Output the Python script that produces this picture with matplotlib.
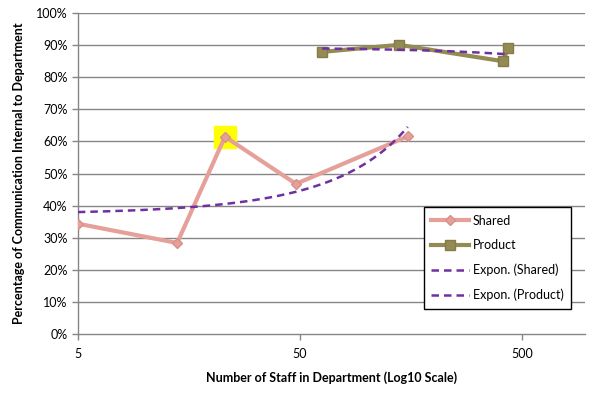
import numpy as np
import matplotlib
matplotlib.use("Agg")
from matplotlib import pyplot as plt
from matplotlib.ticker import FixedLocator, FuncFormatter, NullLocator

plt.rcParams['font.family'] = ['Lato', 'DejaVu Sans']

# data
shared_x = [5, 14, 23, 48, 153]
shared_y = [34.4, 28.4, 61.5, 46.8, 61.6]
product_x = [63, 140, 410, 433]
product_y = [87.9, 90.1, 85.0, 89.0]
highlight_x = [23]
highlight_y = [61.5]
x_ticks = [5, 50, 500]
y_ticks = list(range(0, 101, 10))


def expon_fit(x, y):
    # same as Excel's exponential trendline: ln(y) = ln(a) + b*x
    x = np.asarray(x, float)
    b, lna = np.polyfit(x, np.log(y), 1)
    xs = np.geomspace(x.min(), x.max(), 200)
    return xs, np.exp(lna) * np.exp(b * xs)


fig = plt.figure(figsize=(6.13, 3.95), dpi=100)
ax = fig.add_axes([0.127, 0.154, 0.827, 0.813])

grid_c = '#868686'
ax.set_xscale('log')
ax.set_xlim(5, 960)
ax.set_ylim(0, 100)
for v in y_ticks[1:]:
    ax.axhline(v, color=grid_c, lw=1, zorder=0)

ax.plot(highlight_x, highlight_y, 's', ms=16, color='#FFFF00', mec='#FFFF00', zorder=1)

ax.plot(shared_x, shared_y, '-D', color='#E6A09A', lw=3, ms=5.5, mfc='#E6A09A',
        mec='#D99089', label='Shared', zorder=3)
ax.plot(product_x, product_y, '-s', color='#948A54', lw=3, ms=7.5, mfc='#948A54',
        mec='#857B48', label='Product', zorder=3)

sx, sy = expon_fit(shared_x, shared_y)
ax.plot(sx, sy, '--', color='#7030A0', lw=1.8, dashes=(3, 2), label='Expon. (Shared)', zorder=4)
px, py = expon_fit(product_x, product_y)
ax.plot(px, py, '--', color='#7030A0', lw=1.8, dashes=(3, 2), label='Expon. (Product)', zorder=4)

ax.xaxis.set_major_locator(FixedLocator(x_ticks))
ax.xaxis.set_minor_locator(NullLocator())
ax.xaxis.set_major_formatter(FuncFormatter(lambda v, p: '%d' % v))
ax.yaxis.set_major_locator(FixedLocator(y_ticks))
ax.yaxis.set_major_formatter(FuncFormatter(lambda v, p: '%d%%' % v))
ax.tick_params(axis='both', labelsize=9, color=grid_c, length=4, width=1)
ax.tick_params(axis='x', pad=6)

for s in ['top', 'right']:
    ax.spines[s].set_visible(False)
for s in ['left', 'bottom']:
    ax.spines[s].set_color(grid_c)
    ax.spines[s].set_linewidth(1)

ax.set_xlabel('Number of Staff in Department (Log10 Scale)', fontsize=9, fontweight='bold', labelpad=8)
ax.set_ylabel('Percentage of Communication Internal to Department', fontsize=9, fontweight='bold', labelpad=8)

leg = ax.legend(loc='upper left', bbox_to_anchor=(0.67, 0.415), fontsize=9, frameon=True,
                fancybox=False, edgecolor='black', framealpha=1, borderpad=0.6,
                labelspacing=1.0, handlelength=3.0, handletextpad=0.3)
leg.get_frame().set_linewidth(1)

plt.savefig('out.png', dpi=100)
